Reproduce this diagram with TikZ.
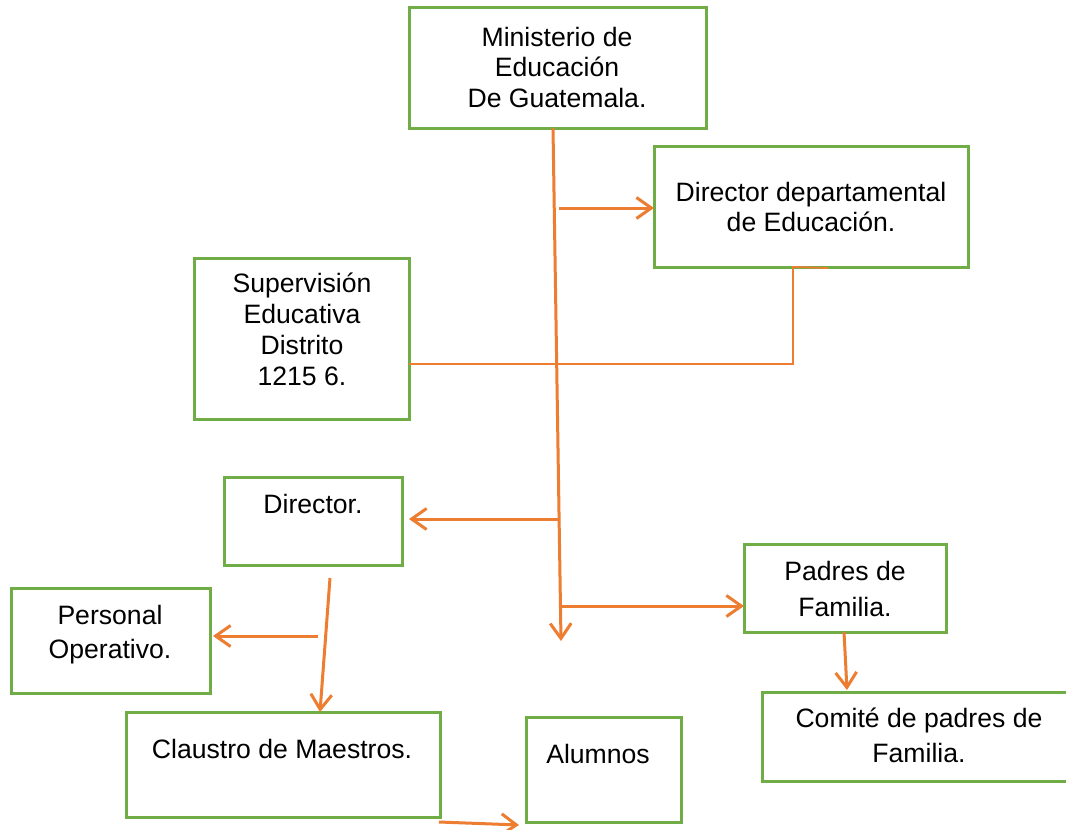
\documentclass[tikz,border=0pt]{standalone}
\usepackage{fontspec}
\setmainfont{Liberation Sans}
\usetikzlibrary{arrows.meta}
\definecolor{boxgreen}{HTML}{70AD47}
\definecolor{connorange}{HTML}{ED7D31}
\newcommand{\fst}{\rule{0pt}{22pt}}
\tikzset{
  box/.style={draw=boxgreen, line width=3pt, inner sep=0pt, outer sep=0pt, anchor=north west, fill=none},
  txt/.style={align=center, inner sep=0pt, anchor=north, text=black},
  conn/.style={draw=connorange, line width=3pt},
  thinconn/.style={draw=connorange, line width=1.8pt},
  arr/.style={-{Straight Barb[length=15pt,width=21pt]}}
}
\begin{document}
\begin{tikzpicture}[x=1pt,y=-1pt]
\useasboundingbox (0,0) rectangle (1066,830);
\fill[white] (0,0) rectangle (1066,830);

% boxes
\node[box, minimum width=297pt, minimum height=121pt] (min) at (409,7) {};
\node[box, minimum width=314pt, minimum height=121pt] (dep) at (654,146) {};
\node[box, minimum width=215pt, minimum height=161pt] (sup) at (194,258) {};
\node[box, minimum width=178pt, minimum height=88pt] (dir) at (224,477) {};
\node[box, minimum width=202pt, minimum height=88pt] (pad) at (744,544) {};
\node[box, minimum width=199pt, minimum height=105pt] (per) at (11,588) {};
\node[box, minimum width=314pt, minimum height=89pt] (com) at (762,692) {};
\node[box, minimum width=314pt, minimum height=105pt] (cla) at (126,712) {};
\node[box, minimum width=155pt, minimum height=105pt] (alu) at (526,717) {};

% texts
\node[txt, font=\fontsize{26.6}{30.5}\selectfont] (tmin) at (557,24) {\fst Ministerio de\\Educación\\De Guatemala.};
\node[txt, font=\fontsize{26.6}{30}\selectfont] (tdep) at (811,179) {\fst Director departamental\\de Educación.};
\node[txt, font=\fontsize{26.6}{31}\selectfont] (tsup) at (302,270) {\fst Supervisión\\Educativa\\Distrito\\1215 6.};
\node[txt, font=\fontsize{26.6}{30}\selectfont] (tdir) at (313,491) {\fst Director.};
\node[txt, font=\fontsize{26.6}{34}\selectfont] (tper) at (110,602) {\fst Personal\\Operativo.};
\node[txt, font=\fontsize{26.6}{30}\selectfont] (tcla) at (282,736) {\fst Claustro de Maestros.};
\node[txt, font=\fontsize{26.6}{30}\selectfont] (talu) at (598,741) {\fst Alumnos};
\node[txt, font=\fontsize{26.6}{36}\selectfont] (tpad) at (845,558) {\fst Padres de\\Familia.};
\node[txt, font=\fontsize{26.6}{35}\selectfont] (tcom) at (919,705) {\fst Comité de padres de\\Familia.};

% junction coordinates
\coordinate (maintop) at (553,128);
\coordinate (mainend) at (561,641);
\coordinate (j1) at (559,208);
\coordinate (j2) at (558,519);
\coordinate (j3) at (561,606);
\coordinate (c364) at (793,364);
\coordinate (stub) at (828,268);
\coordinate (d1) at (330,578);
\coordinate (d2) at (320,712);
\coordinate (p1) at (318,636);
\coordinate (q1) at (844,632);
\coordinate (q2) at (847,690);
\coordinate (a1) at (439,822);
\coordinate (a2) at (519,825);
\coordinate (dirtip) at (409,519);
\coordinate (pertip) at (213,636);

% connectors
\draw[thinconn] (c364 -| sup.east) -- (c364) -- (c364 |- dep.south) -- (stub);
\draw[conn, arr] (maintop |- min.south) -- (mainend);
\draw[conn, arr] (j1) -- (j1 -| dep.west);
\draw[conn, arr] (j2) -- (dirtip);
\draw[conn, arr] (j3) -- (j3 -| pad.west);
\draw[conn, arr] (d1) -- (d2 |- cla.north);
\draw[conn, arr] (p1) -- (pertip);
\draw[conn, arr] (q1 |- pad.south) -- (q2);
\draw[conn, arr] (a1) -- (a2);
\end{tikzpicture}
\end{document}
